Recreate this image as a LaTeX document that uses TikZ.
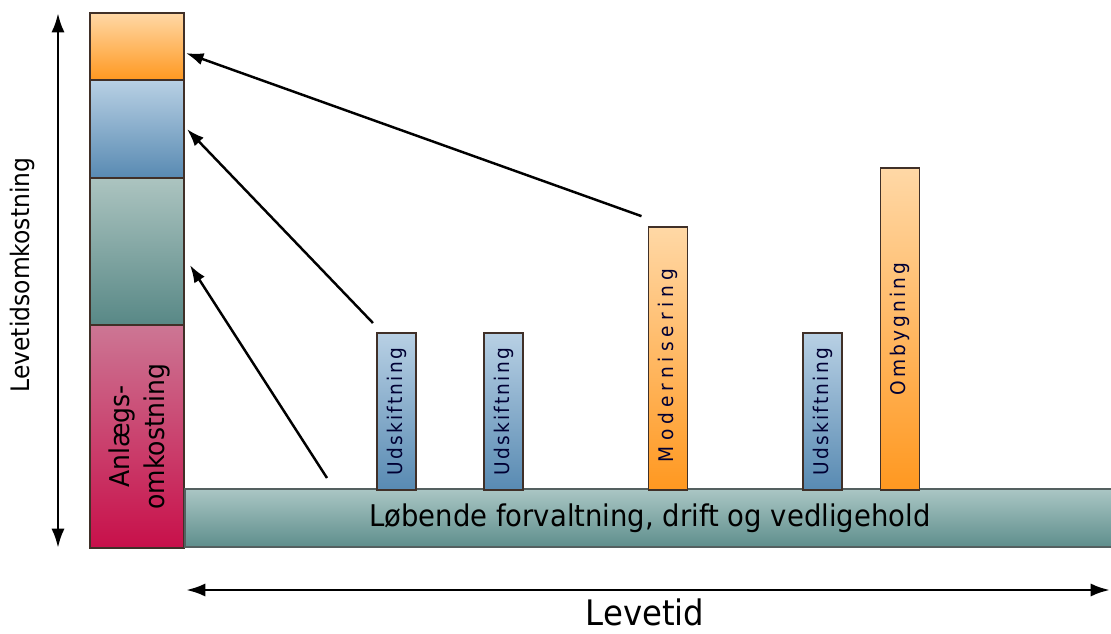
\documentclass[tikz,border=0pt]{standalone}
\usepackage{fontspec}
\setmainfont{DejaVu Sans}[FakeStretch=0.92]
\usetikzlibrary{positioning,arrows.meta}

\definecolor{orangetop}{RGB}{255,216,166}
\definecolor{orangebot}{RGB}{255,152,32}
\definecolor{bluetop}{RGB}{184,208,228}
\definecolor{bluebot}{RGB}{88,138,178}
\definecolor{tealtop}{RGB}{172,196,192}
\definecolor{tealbot}{RGB}{88,136,134}
\definecolor{crimtop}{RGB}{204,118,148}
\definecolor{crimbot}{RGB}{200,16,74}
\definecolor{basetop}{RGB}{170,198,196}
\definecolor{basebot}{RGB}{94,142,140}
\definecolor{blockline}{RGB}{64,48,40}
\definecolor{baseline}{RGB}{84,96,96}

\tikzset{
  block/.style={draw=blockline, line width=1pt, minimum width=1.88cm, inner sep=0pt, outer sep=0pt},
  bar/.style={draw=blockline, line width=1pt, minimum width=0.78cm, inner sep=0pt, outer sep=0pt, anchor=south},
  orangefill/.style={top color=orangetop, bottom color=orangebot},
  bluefill/.style={top color=bluetop, bottom color=bluebot},
  barlabel/.style={rotate=90, text=black!80!blue, font=\fontsize{11.5}{13}\selectfont\addfontfeature{LetterSpace=#1}},
  barlabel/.default=11,
  pointer/.style={-{Latex[length=10pt,width=7pt]}, line width=1.4pt},
  axis/.style={{Latex[length=11pt,width=7.5pt]}-{Latex[length=11pt,width=7.5pt]}, line width=1.7pt},
}

\begin{document}
\begin{tikzpicture}[x=0.02cm, y=-0.02cm]
\useasboundingbox (0,0) rectangle (1111,634);

% cost column
\node[block, anchor=south west, minimum height=4.46cm, top color=crimtop, bottom color=crimbot] (anlaeg) at (90,548) {};
\node[block, above=0pt of anlaeg, minimum height=2.94cm, top color=tealtop, bottom color=tealbot] (drift) {};
\node[block, above=0pt of drift, minimum height=1.96cm, bluefill] (udskift) {};
\node[block, above=0pt of udskift, minimum height=1.34cm, orangefill] (modern) {};
\node[rotate=90, align=center, font=\fontsize{15.5}{20}\selectfont] at ([xshift=1.5pt]anlaeg) {Anlægs-\\omkostning};

% running costs
\node[draw=baseline, line width=1pt, anchor=south west, minimum width=18.7cm, minimum height=1.16cm,
      inner sep=0pt, top color=basetop, bottom color=basebot, font=\fontsize{17}{19}\selectfont]
      (base) at (anlaeg.south east) {\hspace{-0.1cm}Løbende forvaltning, drift og vedligehold\hspace{0.1cm}};

% events
\node[bar, minimum height=3.14cm, bluefill] (udsk1) at (396.5,490) {};
\node[bar, minimum height=3.14cm, bluefill] (udsk2) at (503.5,490) {};
\node[bar, minimum height=5.26cm, orangefill] (moder) at (668,490) {};
\node[bar, minimum height=3.14cm, bluefill] (udsk3) at (822.5,490) {};
\node[bar, minimum height=6.44cm, orangefill] (ombyg) at (900,490) {};
\node[barlabel] at (udsk1) {Udskiftning};
\node[barlabel] at (udsk2) {Udskiftning};
\node[barlabel=25] at ([yshift=-4pt]moder) {Modernisering};
\node[barlabel] at (udsk3) {Udskiftning};
\node[barlabel=15] at (ombyg) {Ombygning};

% pointers
\coordinate (drift start) at (327,478);
\draw[pointer] (drift start) -- ([shift={(3.4pt,-7.7pt)}]drift.east);
\draw[pointer] ([shift={(-2.3pt,5.7pt)}]udsk1.north west) -- ([xshift=1.7pt]udskift.east);
\draw[pointer] ([shift={(-4pt,6.2pt)}]moder.north west) -- ([shift={(1.1pt,-3.7pt)}]modern.east);

% axes
\coordinate (ybot) at (58,548);
\coordinate (ytop) at (58,13);
\coordinate (xleft) at (186,590);
\coordinate (xright) at (1110,590);
\draw[axis] (ybot) -- (ytop);
\draw[axis] (xleft) -- (xright);
\node[rotate=90, font=\fontsize{14.5}{16}\selectfont] (ylabel) at (22,275) {Levetidsomkostning};
\node[font=\fontsize{20}{22}\selectfont] (xlabel) at (645,612) {Levetid};
\end{tikzpicture}
\end{document}
